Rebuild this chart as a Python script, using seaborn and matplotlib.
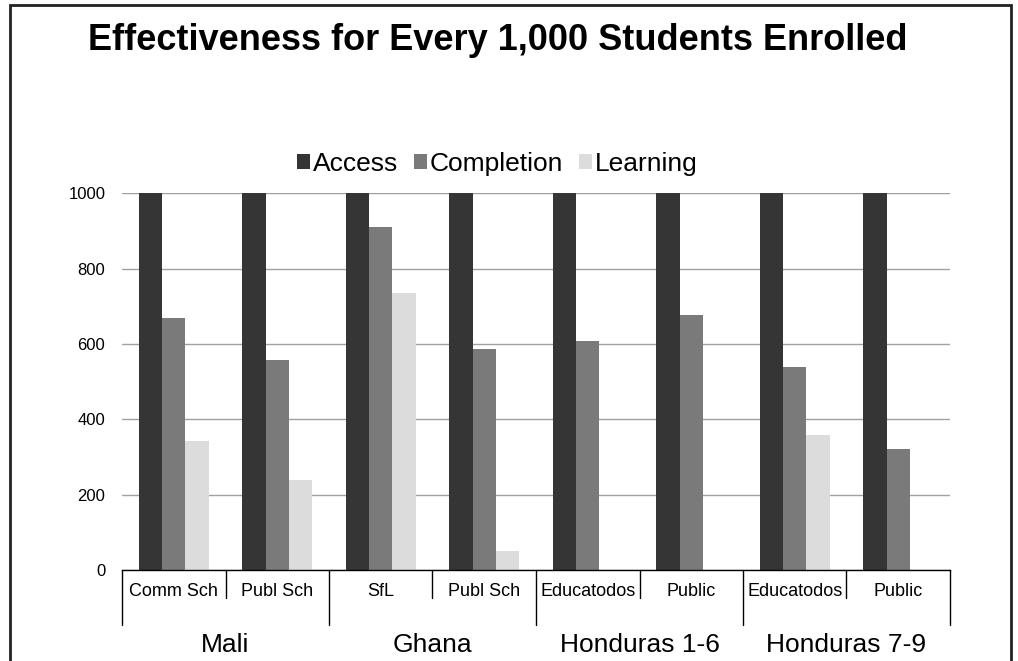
import pandas as pd
import seaborn as sns
import matplotlib.pyplot as plt
from matplotlib.patches import Rectangle
import matplotlib.transforms as mtransforms

# Data
groups = ['Mali', 'Mali', 'Ghana', 'Ghana', 'Honduras 1-6', 'Honduras 1-6', 'Honduras 7-9', 'Honduras 7-9']
programs = ['Comm Sch', 'Publ Sch', 'SfL', 'Publ Sch', 'Educatodos', 'Public', 'Educatodos', 'Public']
access = [1000, 1000, 1000, 1000, 1000, 1000, 1000, 1000]
completion = [670, 557, 910, 587, 608, 677, 539, 321]
learning = [342, 239, 735, 50, 0, 0, 358, 0]
series = ['Access', 'Completion', 'Learning']
colors = ['#353535', '#7a7a7a', '#dcdcdc']

keys = [f'{g} | {p}' for g, p in zip(groups, programs)]
df = pd.DataFrame({'key': keys, 'Access': access, 'Completion': completion, 'Learning': learning})
long = df.melt(id_vars='key', value_vars=series, var_name='series', value_name='value')

sns.set_style('white')
plt.rcParams['font.family'] = ['Liberation Sans', 'DejaVu Sans']
plt.rcParams['text.color'] = 'black'
plt.rcParams['ytick.color'] = 'black'

fig = plt.figure(figsize=(10.18, 6.61), dpi=100)
ax = fig.add_axes([122 / 1018, 1 - 570 / 661, 828 / 1018, 376.7 / 661])

sns.barplot(data=long, x='key', y='value', hue='series', order=keys, hue_order=series,
            palette=colors, width=0.68, gap=0, saturation=1, linewidth=0,
            ax=ax, legend=True)

ax.set_xlim(-0.5, len(keys) - 0.5)
ax.set_ylim(0, 1000)
ax.set_yticks([0, 200, 400, 600, 800, 1000])
ax.tick_params(axis='y', labelsize=12, pad=12, length=0, labelcolor='black')
ax.set_xticks([])
ax.set_xlabel('')
ax.set_ylabel('')
ax.yaxis.grid(True, color='#a0a0a0', linewidth=1)
ax.set_axisbelow(True)
for s in ['left', 'right', 'top']:
    ax.spines[s].set_visible(False)
ax.spines['bottom'].set_color('black')
ax.spines['bottom'].set_linewidth(1)

# two-level category axis
trans = mtransforms.blended_transform_factory(ax.transData, ax.transAxes)
for i, p in enumerate(programs):
    ax.text(i, -0.058, p, transform=trans, ha='center', va='center', fontsize=13)
short_y = -28 / 376.7
long_y = -55 / 376.7
for b in range(len(keys) + 1):
    x = b - 0.5
    y_end = long_y if b % 2 == 0 else short_y
    ax.plot([x, x], [0, y_end], transform=trans, color='black', linewidth=1, clip_on=False)
group_names = ['Mali', 'Ghana', 'Honduras 1-6', 'Honduras 7-9']
for j, g in enumerate(group_names):
    ax.text(2 * j + 0.5, -75 / 376.7, g, transform=trans, ha='center', va='center', fontsize=19)

# legend
handles, labels = ax.get_legend_handles_labels()
ax.legend(handles, labels, loc='center', bbox_to_anchor=(497 / 1018, 1 - 164 / 661),
          bbox_transform=fig.transFigure, ncol=3, frameon=False, fontsize=19,
          handlelength=0.5, handleheight=0.5, handletextpad=0.1, columnspacing=0.6)

fig.text(498 / 1018, 1 - 40 / 661, 'Effectiveness for Every 1,000 Students Enrolled',
         ha='center', va='center', fontsize=26, fontweight='bold', color='black')

# slide frame
fig.patches.append(Rectangle((9.5 / 1018, -0.1), 1001 / 1018, 1.1 - 4.5 / 661,
                             transform=fig.transFigure, fill=False, edgecolor='#222222',
                             linewidth=2))

fig.savefig('out.png', dpi=100)
